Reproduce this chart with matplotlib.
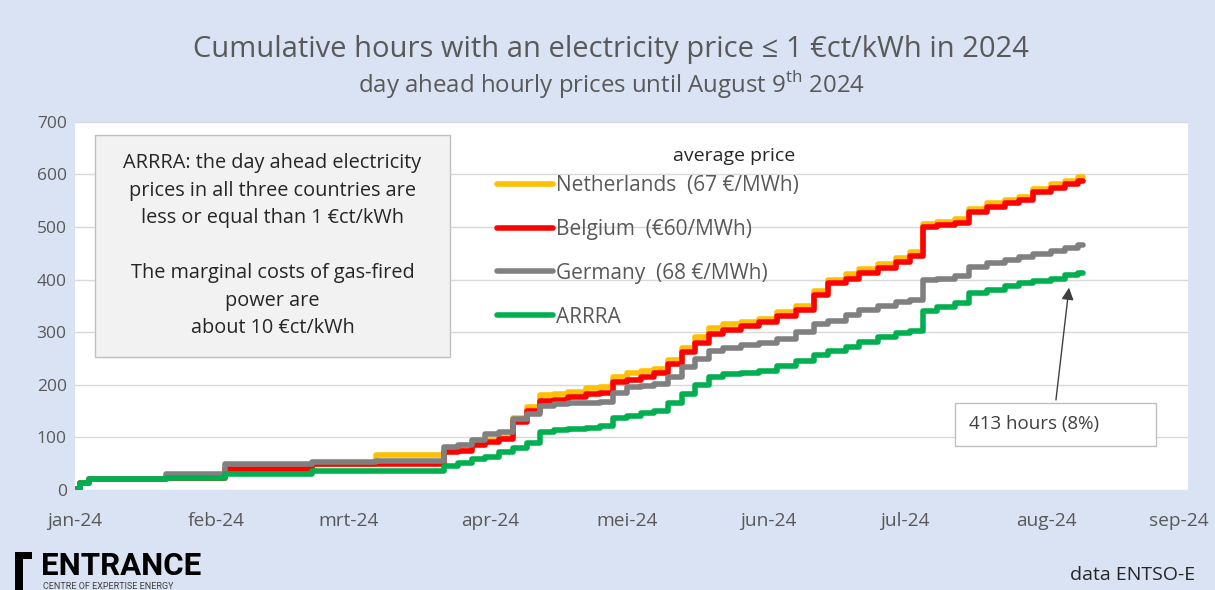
import matplotlib
matplotlib.use("Agg")
import matplotlib.pyplot as plt
import matplotlib.dates as mdates
import matplotlib.transforms as mtransforms
from matplotlib.patches import Rectangle, Polygon
import numpy as np

plt.rcParams['font.family'] = ['Open Sans', 'DejaVu Sans']
plt.rcParams['mathtext.fontset'] = 'custom'
plt.rcParams['mathtext.rm'] = 'Open Sans'

# data
dates = ["2024-01-01", "2024-01-02", "2024-01-04", "2024-01-21", "2024-02-03", "2024-02-22",
         "2024-03-07", "2024-03-22", "2024-03-25", "2024-03-28", "2024-03-31", "2024-04-03",
         "2024-04-06", "2024-04-09", "2024-04-12", "2024-04-15", "2024-04-18", "2024-04-22",
         "2024-04-25", "2024-04-28", "2024-05-01", "2024-05-04", "2024-05-07", "2024-05-10",
         "2024-05-13", "2024-05-16", "2024-05-19", "2024-05-22", "2024-05-26", "2024-05-30",
         "2024-06-03", "2024-06-07", "2024-06-11", "2024-06-14", "2024-06-18", "2024-06-21",
         "2024-06-25", "2024-06-29", "2024-07-02", "2024-07-05", "2024-07-08", "2024-07-12",
         "2024-07-15", "2024-07-19", "2024-07-23", "2024-07-26", "2024-07-29", "2024-08-02",
         "2024-08-05", "2024-08-08", "2024-08-09"]

netherlands = [2, 13, 20, 23, 40, 49, 66, 75, 78, 88, 95, 100, 137, 158, 180, 182, 186,
               193, 195, 215, 222, 226, 230, 248, 270, 290, 308, 315, 320, 326, 338, 350,
               378, 400, 410, 420, 430, 442, 453, 505, 510, 515, 535, 545, 552, 558, 573,
               582, 588, 596, 596]
belgium = [2, 13, 20, 23, 40, 49, 50, 73, 75, 85, 92, 97, 130, 150, 170, 172, 176,
           182, 185, 205, 210, 215, 223, 240, 262, 280, 297, 305, 312, 319, 330, 342,
           370, 393, 402, 412, 422, 433, 445, 500, 503, 507, 529, 538, 545, 551, 567,
           575, 581, 588, 588]
germany = [2, 13, 20, 30, 50, 54, 56, 82, 86, 95, 107, 110, 135, 145, 160, 163, 165,
           166, 168, 185, 195, 198, 202, 215, 233, 250, 265, 270, 275, 279, 288, 300,
           315, 322, 332, 342, 350, 357, 361, 399, 402, 407, 424, 432, 438, 443, 449,
           455, 461, 466, 466]
arrra = [2, 13, 20, 23, 30, 36, 36, 46, 52, 58, 62, 72, 80, 90, 110, 114, 116,
         118, 122, 137, 140, 147, 151, 165, 183, 200, 215, 220, 222, 227, 236, 246,
         256, 265, 272, 281, 290, 298, 303, 340, 348, 355, 374, 380, 387, 393, 397,
         402, 408, 413, 413]

labels = ["Netherlands  (67 €/MWh)", "Belgium  (€60/MWh)", "Germany  (68 €/MWh)", "ARRRA"]
colors = ["#FFC000", "#FF0000", "#808080", "#00B050"]

month_starts = ["2024-01-01", "2024-02-01", "2024-03-01", "2024-04-01", "2024-05-01",
                "2024-06-01", "2024-07-01", "2024-08-01", "2024-09-01"]
month_labels = ["jan-24", "feb-24", "mrt-24", "apr-24", "mei-24", "jun-24", "jul-24",
                "aug-24", "sep-24"]

x = np.array(dates, dtype="datetime64[D]")
ticks = np.array(month_starts, dtype="datetime64[D]")

fig = plt.figure(figsize=(12.15, 5.9), dpi=100)
fig.patch.set_facecolor("#dae3f3")
ax = fig.add_axes([0.0617, 0.1695, 0.916, 0.624])
ax.set_facecolor("white")

for s, lab, c in zip([netherlands, belgium, germany, arrra], labels, colors):
    ax.plot(x, s, drawstyle="steps-post", color=c, lw=4, label=lab,
            solid_capstyle="round", solid_joinstyle="round")

ax.set_xlim(ticks[0], ticks[-1])
ax.set_ylim(0, 700)
ax.set_yticks(range(0, 701, 100))
ax.set_xticks(ticks)
ax.set_xticklabels(month_labels)
ax.grid(axis="y", color="#d9d9d9", lw=1)
ax.set_axisbelow(True)
for sp in ax.spines.values():
    sp.set_visible(False)
ax.tick_params(axis="y", length=0, pad=6, labelsize=12.5, labelcolor="#595959")
ax.tick_params(axis="x", length=0, pad=16, labelsize=13.8, labelcolor="#595959")
# last month label sits a bit to the left so it stays inside the picture
last = ax.get_xticklabels()[-1]
last.set_transform(last.get_transform() +
                   mtransforms.ScaledTranslation(-9 / 100, 0, fig.dpi_scale_trans))

# legend
leg = ax.legend(loc="upper left", bbox_to_anchor=(0.37, 0.884), frameon=False,
                fontsize=15, handlelength=2.7, handletextpad=0.1,
                labelspacing=1.1, borderpad=0)
for t in leg.get_texts():
    t.set_color("#595959")
for h in leg.get_lines():
    h.set_linewidth(4)
ax.text(0.647, 0.907, "average price", transform=ax.transAxes, ha="right", va="center",
        fontsize=14, color="#262626")

# text box on the left
ax.add_patch(Rectangle((0.018, 0.36), 0.319, 0.605, transform=ax.transAxes,
                       facecolor="#f2f2f2", edgecolor="#bfbfbf", lw=1, zorder=5))
ax.text(0.1775, 0.663,
        "ARRRA: the day ahead electricity\nprices in all three countries are\n"
        "less or equal than 1 €ct/kWh\n\nThe marginal costs of gas-fired\npower are\n"
        "about 10 €ct/kWh",
        transform=ax.transAxes, ha="center", va="center", fontsize=14.3,
        color="#262626", linespacing=1.5, zorder=6)

# annotation of the final ARRRA value
d2n = mdates.date2num
bx0 = d2n(np.datetime64("2024-07-12"))
bx1 = d2n(np.datetime64("2024-08-25"))
ax.add_patch(Rectangle((bx0, 84), bx1 - bx0, 82, facecolor="white", edgecolor="#bfbfbf",
                       lw=1, zorder=5))
ax.text(d2n(np.datetime64("2024-07-15")), 125, f"{arrra[-1]} hours (8%)", ha="left",
        va="center", fontsize=13.5, color="#404040", zorder=6)
ax.annotate("", xy=(d2n(np.datetime64("2024-08-06")), 390),
            xytext=(d2n(np.datetime64("2024-08-03")), 166),
            arrowprops=dict(arrowstyle="-|>", color="#404040", lw=1, mutation_scale=18),
            zorder=6)

# titles
fig.text(0.503, 0.916, "Cumulative hours with an electricity price ≤ 1 €ct/kWh in 2024",
         ha="center", va="center", fontsize=21, color="#595959")
fig.text(0.503, 0.856, r"day ahead hourly prices until August 9$^{\mathrm{th}}$ 2024",
         ha="center", va="center", fontsize=17.3, color="#595959")

# logo and source
fig.patches.append(Polygon([[0.012, 0.0], [0.012, 0.064], [0.026, 0.064], [0.026, 0.052],
                            [0.019, 0.052], [0.019, 0.0]], closed=True,
                           transform=fig.transFigure, facecolor="black", edgecolor="none"))
fig.text(0.034, 0.04, "ENTRANCE", ha="left", va="center", fontsize=22.5, fontweight="bold",
         family="Roboto", color="black")
fig.text(0.035, 0.006, "CENTRE OF EXPERTISE ENERGY", ha="left", va="center",
         fontsize=6.5, family="Roboto", color="#404040")
fig.text(0.984, 0.025, "data ENTSO-E", ha="right", va="center", fontsize=14,
         color="#262626")

fig.savefig("out.png", dpi=100, facecolor=fig.get_facecolor())
